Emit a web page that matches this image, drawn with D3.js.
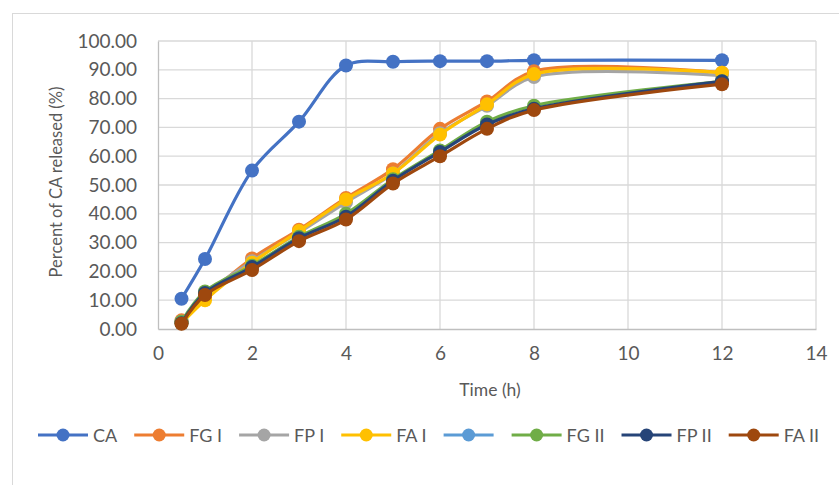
<!DOCTYPE html>
<html><head><meta charset="utf-8">
<script src="https://cdn.jsdelivr.net/npm/d3@7"></script>
<style>body{margin:0;background:#fff}svg{display:block}text{font-family:Lato,"Open Sans",sans-serif;fill:#595959}</style>
</head><body><svg id="c" width="839" height="485"></svg>
<script>
const times = [0.5, 1, 2, 3, 4, 5, 6, 7, 8, 12];
const seriesNames = ["CA", "FG I", "FP I", "FA I", "", "FG II", "FP II", "FA II"];
const seriesColors = ["#4472C4", "#ED7D31", "#A5A5A5", "#FFC000", "#5B9BD5", "#70AD47", "#264478", "#9E480E"];
const CA    = [10.5, 24.3, 55.0, 72.0, 91.5, 92.8, 93.0, 93.0, 93.3, 93.3];
const FG_I  = [3.0, 11.0, 24.5, 34.5, 45.5, 55.5, 69.5, 79.0, 89.5, 89.0];
const FP_I  = [2.5, 12.0, 23.5, 33.5, 44.0, 54.0, 68.0, 77.5, 87.5, 88.0];
const FA_I  = [2.0, 10.0, 23.0, 34.0, 45.0, 54.0, 67.5, 78.0, 88.5, 89.0];
const EMPTY = [];
const FG_II = [2.5, 13.0, 22.0, 32.0, 40.0, 52.0, 62.0, 72.0, 77.5, 86.0];
const FP_II = [2.0, 12.5, 21.5, 31.5, 39.0, 51.5, 61.5, 71.0, 76.5, 86.0];
const FA_II = [1.8, 11.8, 20.5, 30.5, 38.0, 50.5, 60.0, 69.5, 76.0, 85.0];
const seriesValues = [CA, FG_I, FP_I, FA_I, EMPTY, FG_II, FP_II, FA_II];
const xTicks = [0, 2, 4, 6, 8, 10, 12, 14];
const yTicks = [0, 10, 20, 30, 40, 50, 60, 70, 80, 90, 100];

const svg = d3.select("#c");
svg.append("rect").attr("x", 12.5).attr("y", 13.5).attr("width", 900).attr("height", 600)
  .attr("fill", "none").attr("stroke", "#d9d9d9");

const x = d3.scaleLinear().domain([0, 14]).range([158, 816]);
const y = d3.scaleLinear().domain([0, 100]).range([329, 41]);

// gridlines
const g = svg.append("g");
g.selectAll(".hg").data(yTicks.slice(1)).join("line")
  .attr("x1", x(0)).attr("x2", x(14)).attr("y1", d => y(d)).attr("y2", d => y(d))
  .attr("stroke", "#d9d9d9").attr("stroke-width", 1.3);
g.selectAll(".vg").data(xTicks.slice(1)).join("line")
  .attr("y1", y(0)).attr("y2", y(100)).attr("x1", d => x(d)).attr("x2", d => x(d))
  .attr("stroke", "#d9d9d9").attr("stroke-width", 1.3);

// axes
const ax = svg.append("g").attr("transform", `translate(0,${y(0)})`)
  .call(d3.axisBottom(x).tickValues(xTicks).tickSize(0).tickPadding(18).tickFormat(d3.format("d")));
ax.select(".domain").attr("stroke", "#bfbfbf").attr("stroke-width", 1.3);
ax.selectAll("text").style("font-size", "19px").attr("fill", "#595959");
const ay = svg.append("g").attr("transform", `translate(${x(0)},0)`)
  .call(d3.axisLeft(y).tickValues(yTicks).tickSize(0).tickPadding(21).tickFormat(d3.format(".2f")));
ay.select(".domain").attr("stroke", "#bfbfbf").attr("stroke-width", 1.3);
ay.selectAll("text").style("font-size", "19px").attr("fill", "#595959");

svg.append("text").attr("x", 490).attr("y", 396).attr("text-anchor", "middle")
  .style("font-size", "17.5px").text("Time (h)");
svg.append("text").attr("transform", "translate(62,182) rotate(-90)").attr("text-anchor", "middle")
  .style("font-size", "16.5px").text("Percent of CA released (%)");

// series
const line = d3.line().x(d => x(d[0])).y(d => y(d[1])).curve(d3.curveCatmullRom.alpha(0.5));
seriesValues.forEach((vals, i) => {
  if (!vals.length) return;
  const pts = vals.map((v, j) => [times[j], v]);
  const sg = svg.append("g");
  sg.append("path").attr("d", line(pts)).attr("fill", "none")
    .attr("stroke", seriesColors[i]).attr("stroke-width", 3.2).attr("stroke-linecap", "round");
  sg.selectAll("circle").data(pts).join("circle")
    .attr("cx", d => x(d[0])).attr("cy", d => y(d[1])).attr("r", 7)
    .attr("fill", seriesColors[i]);
});

// legend
const lg = svg.append("g").attr("transform", "translate(0,435)");
let cx = 38;
seriesNames.forEach((n, i) => {
  const it = lg.append("g").attr("transform", `translate(${cx},0)`);
  it.append("line").attr("x1", 0).attr("x2", 50).attr("y1", 0).attr("y2", 0)
    .attr("stroke", seriesColors[i]).attr("stroke-width", 3.2);
  it.append("circle").attr("cx", 25).attr("cy", 0).attr("r", 6.5).attr("fill", seriesColors[i]);
  let w = 0;
  if (n) {
    const t = it.append("text").attr("x", 55).attr("y", 6.5).style("font-size", "18px").text(n);
    w = t.node().getComputedTextLength() + 4;
  }
  cx += 50 + w + 18;
});
</script></body></html>
